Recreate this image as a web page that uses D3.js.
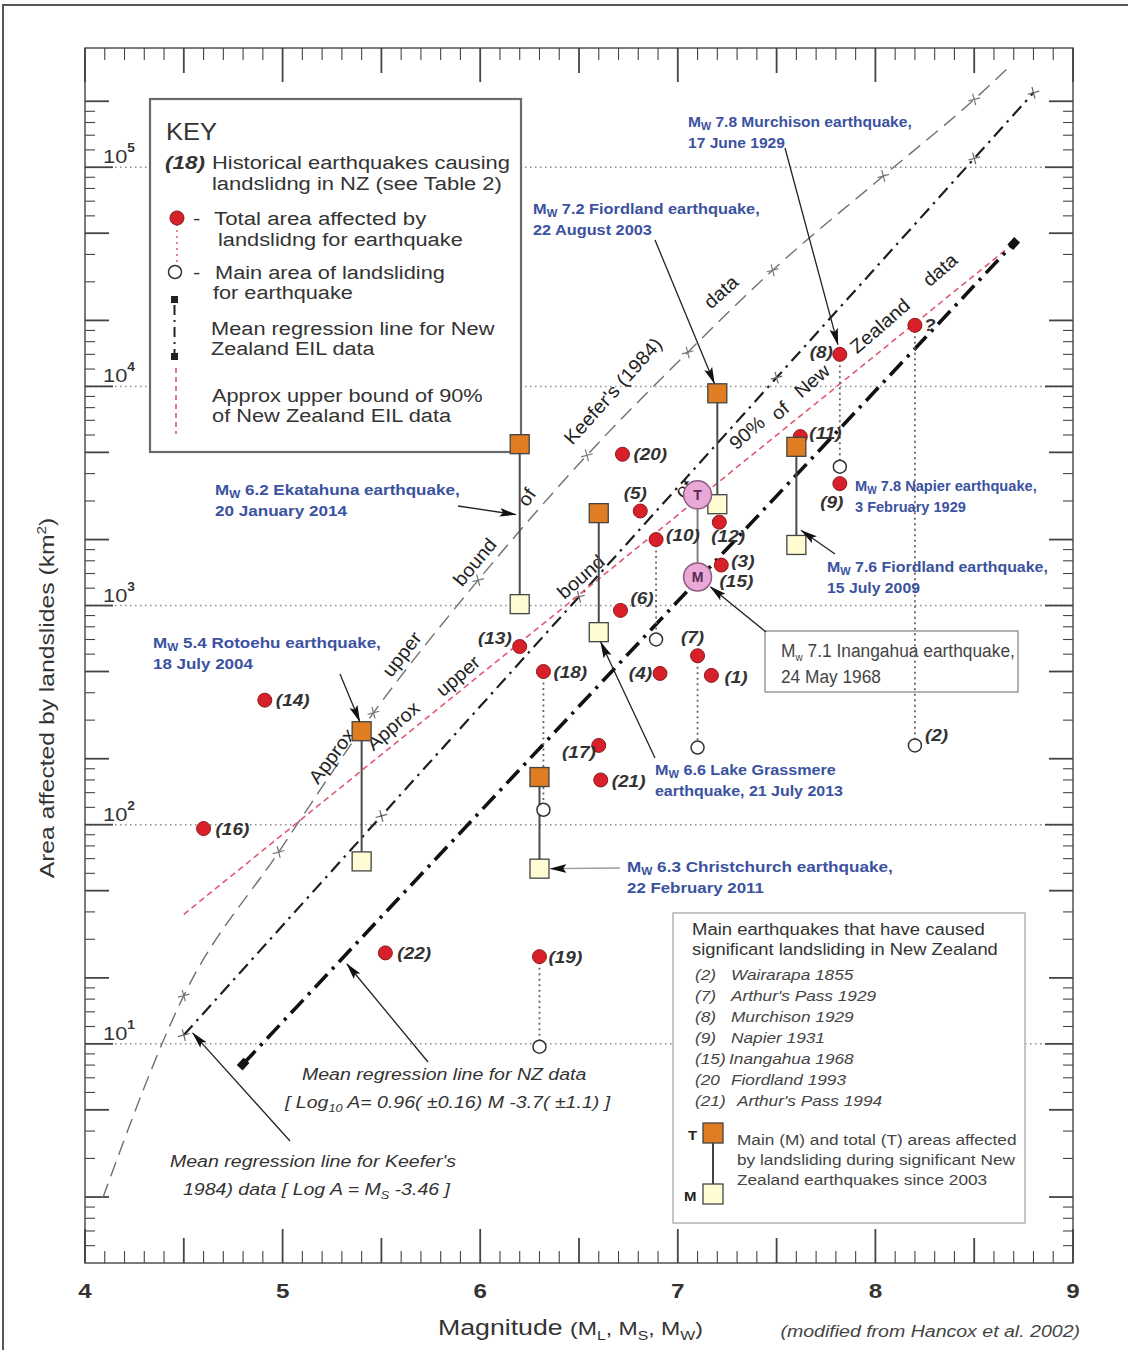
<!DOCTYPE html>
<html>
<head>
<meta charset="utf-8">
<script src="https://cdn.jsdelivr.net/npm/d3@7"></script>
<style>
  body { margin: 0; background: #fff; }
  svg { display: block; }
  text { font-family: "Liberation Sans", Arial, sans-serif; }
</style>
</head>
<body>
<svg id="chart" width="1128" height="1350"></svg>
<script>
// ---------------- data ----------------
const magnitudeTicks = [4, 5, 6, 7, 8, 9];
const decadeLabels = [1, 2, 3, 4, 5];           // powers of ten labelled on the area axis
const minorMultipliers = [1, 1.2, 1.4, 1.6, 1.8, 2, 3, 4, 5, 6, 7, 8, 9];

// historical NZ earthquakes: id, magnitude, total area affected (km2)
const historicalIds   = [1, 2, 3, 4, 5, 6, 7, 8, 9, 10, 11, 12, 13, 14, 16, 17, 18, 19, 20, 21, 22];
const historicalMag   = [7.17, 8.2, 7.22, 6.91, 6.81, 6.71, 7.1, 7.82, 7.82, 6.89, 7.62, 7.21, 6.2, 4.91, 4.6, 6.6, 6.32, 6.3, 6.72, 6.61, 5.52];
const historicalTotal = [480, 19000, 1530, 490, 2700, 950, 590, 14000, 3600, 2000, 5900, 2400, 650, 370, 96, 230, 500, 25, 4900, 160, 26];

// main area of landsliding (open circles), linked to the event id
const mainIds  = [2, 7, 8, 10, 18, 19];
const mainArea = [230, 225, 4300, 700, 117, 9.7];

// Inangahua 1968 (event 15): total (T) and main (M) areas
const inangahua = { m: 7.1, total: 3200, main: 1350 };

// significant earthquakes since 2003: total (T) and main (M) areas
const recentNames = ["Rotoehu", "Ekatahuna", "Christchurch", "Lake Grassmere", "Fiordland 2003", "Fiordland 2009"];
const recentMag   = [5.4, 6.2, 6.3, 6.6, 7.2, 7.6];
const recentTotal = [267, 5450, 165, 2640, 9300, 5300];
const recentMain  = [68, 1015, 63, 756, 2900, 1890];

// approximate upper bound of Keefer's (1984) data
const keeferUpperMag  = [4.09, 4.5, 4.98, 5.46, 5.99, 6.54, 7.05, 7.48, 8.04, 8.5, 8.67];
const keeferUpperArea = [1.98, 16.6, 75, 324, 1306, 4850, 14300, 33900, 91200, 204000, 283000];
const keeferUpperCrosses = [4.5, 4.98, 5.46, 5.99, 6.54, 7.05, 7.48, 8.04, 8.5];

// regression lines: log10 A = slope * M + intercept
const keeferMean = { slope: 1.0, intercept: -3.46, from: 4.5, to: 8.8 };
const keeferMeanCrosses = [4.5, 5.5, 6.5, 7.5, 8.5, 8.8];
const nzMean = { slope: 0.96, intercept: -3.7, from: 4.8, to: 8.7 };

// approximate upper bound of 90% of NZ EIL data
const nz90Mag  = [4.5, 8.67];
const nz90Area = [39, 42700];

// ---------------- layout ----------------
const svg = d3.select("#chart");
const plot = { left: 85, right: 1073, top: 48, bottom: 1263 };
const x = d3.scaleLinear().domain([4, 9]).range([plot.left, plot.right]);
const y = d3.scaleLog().domain([1, 3.5e5]).range([plot.bottom, plot.top]);

const BLUE = "#3b52a0";
const INK = "#2e2e2e";
const STRETCH = 1.15;   // lettering is set slightly wide

// text helper: places a (optionally rotated) label and widens it
function txt(parent, x0, y0, opts, content) {
  const g = parent.append("g")
    .attr("transform", `translate(${x0},${y0})` + (opts.rotate ? ` rotate(${opts.rotate})` : ""));
  const t = g.append("text").attr("font-size", opts.size || 16)
    .attr("fill", opts.fill || INK).attr("text-anchor", opts.anchor || "start");
  if (opts.weight) t.attr("font-weight", opts.weight);
  if (opts.italic) t.attr("font-style", "italic");
  if (opts.family) t.attr("font-family", opts.family);
  if (opts.baseline) t.attr("dominant-baseline", opts.baseline);
  if (typeof content === "function") content(t); else t.text(content);
  let sx = opts.stretch == null ? STRETCH : opts.stretch;
  if (opts.width) {
    const w = t.node().getBBox().width;
    if (w > 0) sx = opts.width / w;
  }
  t.attr("transform", `scale(${sx},1)`);
  return t;
}

// arrow marker
const defs = svg.append("defs");
defs.append("marker").attr("id", "arrow")
  .attr("viewBox", "0 0 16 8").attr("refX", 15).attr("refY", 4)
  .attr("markerUnits", "userSpaceOnUse")
  .attr("markerWidth", 17).attr("markerHeight", 9).attr("orient", "auto")
  .append("path").attr("d", "M0,0 L16,4 L0,8 L3,4 z").attr("fill", "#111");

// outer border
svg.append("path").attr("d", "M3,1350 L3,5 L1128,5")
  .attr("fill", "none").attr("stroke", "#555").attr("stroke-width", 2);

// ---------------- grid ----------------
const grid = svg.append("g");
decadeLabels.forEach(p => {
  grid.append("line")
    .attr("x1", plot.left).attr("x2", plot.right)
    .attr("y1", y(Math.pow(10, p))).attr("y2", y(Math.pow(10, p)))
    .attr("stroke", "#8d8d8d").attr("stroke-width", 1.5)
    .attr("stroke-dasharray", "1.5,3.5");
});

// ---------------- frame and ticks ----------------
const frame = svg.append("g").attr("stroke", "#444").attr("fill", "none");
frame.append("rect").attr("x", plot.left).attr("y", plot.top)
  .attr("width", plot.right - plot.left).attr("height", plot.bottom - plot.top)
  .attr("stroke-width", 1.4);

d3.range(40, 91).forEach(i => {
  const m = i / 10;
  const len = i % 10 === 0 ? 34 : (i % 5 === 0 ? 25 : 12);
  const w = i % 5 === 0 ? 1.8 : 1.1;
  frame.append("line").attr("x1", x(m)).attr("x2", x(m))
    .attr("y1", plot.top).attr("y2", plot.top + len).attr("stroke-width", w);
  frame.append("line").attr("x1", x(m)).attr("x2", x(m))
    .attr("y1", plot.bottom).attr("y2", plot.bottom - len).attr("stroke-width", w);
});

[0, 1, 2, 3, 4, 5].forEach(p => {
  minorMultipliers.forEach(k => {
    const v = k * Math.pow(10, p);
    if (v <= 1 || v > 2.1e5) return;
    const len = k === 1 ? 28 : (k === 2 || k === 5 ? 24 : 10);
    const w = (k === 1 || k === 2 || k === 5) ? 1.8 : 1.1;
    frame.append("line").attr("x1", plot.left).attr("x2", plot.left + len)
      .attr("y1", y(v)).attr("y2", y(v)).attr("stroke-width", w);
    frame.append("line").attr("x1", plot.right).attr("x2", plot.right - len)
      .attr("y1", y(v)).attr("y2", y(v)).attr("stroke-width", w);
  });
});

// tick labels
magnitudeTicks.forEach(m => {
  txt(svg, x(m), 1298, { size: 21, weight: "bold", anchor: "middle", fill: "#333" }, String(m));
});
decadeLabels.forEach(p => {
  txt(svg, 103, y(Math.pow(10, p)) - 4, { size: 19, fill: "#333" }, t => {
    t.append("tspan").text("10");
    t.append("tspan").attr("dy", -11).attr("font-size", 12).attr("font-weight", "bold").text(p);
  });
});

// axis titles
txt(svg, 438, 1335, { size: 22, fill: "#333", width: 265 }, t => {
  t.append("tspan").text("Magnitude ");
  t.append("tspan").attr("font-size", 19).text("(M");
  t.append("tspan").attr("font-size", 13).attr("dy", 5).text("L");
  t.append("tspan").attr("font-size", 19).attr("dy", -5).text(", M");
  t.append("tspan").attr("font-size", 13).attr("dy", 5).text("S");
  t.append("tspan").attr("font-size", 19).attr("dy", -5).text(", M");
  t.append("tspan").attr("font-size", 13).attr("dy", 5).text("W");
  t.append("tspan").attr("font-size", 19).attr("dy", -5).text(")");
});
txt(svg, 1080, 1337, { size: 17, italic: true, anchor: "end", fill: "#444" },
  "(modified from Hancox et al. 2002)");
txt(svg, 54, 698, { size: 21, rotate: -90, anchor: "middle", fill: "#333", width: 361 }, t => {
  t.append("tspan").text("Area affected by landslides  (km");
  t.append("tspan").attr("font-size", 13).attr("dy", -8).text("2");
  t.append("tspan").attr("dy", 8).text(")");
});

// ---------------- lines ----------------
const lines = svg.append("g").attr("fill", "none");
const logLine = d3.line().x(d => x(d[0])).y(d => y(d[1])).curve(d3.curveMonotoneX);

// Keefer (1984) upper bound
lines.append("path")
  .attr("d", logLine(keeferUpperMag.map((m, i) => [m, keeferUpperArea[i]])))
  .attr("stroke", "#707070").attr("stroke-width", 1.4).attr("stroke-dasharray", "15,8");

function cross(g, cx, cy, color) {
  g.append("path").attr("d", `M${cx - 6},${cy} L${cx + 6},${cy} M${cx},${cy - 6} L${cx},${cy + 6}`)
    .attr("stroke", color).attr("stroke-width", 1.2)
    .attr("transform", `rotate(-15,${cx},${cy})`);
}
const keeferInterp = m => {
  const i = d3.bisectLeft(keeferUpperMag, m);
  if (keeferUpperMag[i] === m) return keeferUpperArea[i];
  const m0 = keeferUpperMag[i - 1], m1 = keeferUpperMag[i];
  const a0 = Math.log10(keeferUpperArea[i - 1]), a1 = Math.log10(keeferUpperArea[i]);
  return Math.pow(10, a0 + (a1 - a0) * (m - m0) / (m1 - m0));
};
keeferUpperCrosses.forEach(m => cross(lines, x(m), y(keeferInterp(m)), "#777"));

// Keefer mean regression
const regr = (r, m) => Math.pow(10, r.slope * m + r.intercept);
lines.append("line")
  .attr("x1", x(keeferMean.from)).attr("y1", y(regr(keeferMean, keeferMean.from)))
  .attr("x2", x(keeferMean.to)).attr("y2", y(regr(keeferMean, keeferMean.to)))
  .attr("stroke", "#1e1e1e").attr("stroke-width", 2.2).attr("stroke-dasharray", "13,6,2.5,6");
keeferMeanCrosses.forEach(m => cross(lines, x(m), y(regr(keeferMean, m)), "#666"));

// NZ 90% upper bound
lines.append("line")
  .attr("x1", x(nz90Mag[0])).attr("y1", y(nz90Area[0]))
  .attr("x2", x(nz90Mag[1])).attr("y2", y(nz90Area[1]))
  .attr("stroke", "#e05a72").attr("stroke-width", 1.6).attr("stroke-dasharray", "6,4");

// NZ mean regression
const nx1 = x(nzMean.from), ny1 = y(regr(nzMean, nzMean.from));
const nx2 = x(nzMean.to), ny2 = y(regr(nzMean, nzMean.to));
lines.append("line").attr("x1", nx1).attr("y1", ny1).attr("x2", nx2).attr("y2", ny2)
  .attr("stroke", "#111").attr("stroke-width", 3.6).attr("stroke-dasharray", "18,7,3,7");
const nzAngle = Math.atan2(ny2 - ny1, nx2 - nx1) * 180 / Math.PI;
[[nx1, ny1], [nx2, ny2]].forEach(([cx, cy]) => {
  lines.append("rect").attr("x", cx - 5).attr("y", cy - 4).attr("width", 10).attr("height", 8)
    .attr("fill", "#111").attr("transform", `rotate(${nzAngle},${cx},${cy})`);
});

// labels along lines
function alongText(cx, cy, angle, str, size) {
  txt(svg, cx, cy, { size: size || 19, rotate: angle, anchor: "middle", baseline: "middle",
    fill: "#222", stretch: 1.05 }, str);
}
alongText(333, 757, -53, "Approx");
alongText(403, 655, -52, "upper");
alongText(476, 563, -50, "bound");
alongText(528, 498, -55, "of");
alongText(614, 392, -48, "Keefer's (1984)");
alongText(722, 293, -42, "data");
alongText(394, 727, -41, "Approx");
alongText(459, 677, -41, "upper");
alongText(582, 578, -41, "bound");
alongText(685, 490, -41, "of");
alongText(748, 434, -41, "90%");
alongText(781, 412, -41, "of");
alongText(813, 382, -41, "New");
alongText(881, 327, -41, "Zealand");
alongText(941, 271, -41, "data");

// ---------------- KEY ----------------
const key = svg.append("g");
key.append("rect").attr("x", 150).attr("y", 99).attr("width", 371).attr("height", 353)
  .attr("fill", "#fff").attr("stroke", "#6a6a6a").attr("stroke-width", 2.2);
txt(key, 166, 140, { size: 23, fill: "#333", width: 51 }, "KEY");
const kt = (xx, yy, s, w, opts) => txt(key, xx, yy,
  Object.assign({ size: 19, fill: "#333", width: w }, opts || {}), s);
kt(165, 169, "(18)", 40, { weight: "bold", italic: true });
kt(212, 169, "Historical earthquakes causing", 298);
kt(212, 190, "landslidng in NZ (see Table 2)", 290);
key.append("line").attr("x1", 177).attr("x2", 177).attr("y1", 224).attr("y2", 266)
  .attr("stroke", "#d06070").attr("stroke-width", 1.5).attr("stroke-dasharray", "2,4");
key.append("circle").attr("cx", 177).attr("cy", 218).attr("r", 7)
  .attr("fill", "#d8202a").attr("stroke", "#7a1a1a");
kt(193, 225, "-");
kt(214, 225, "Total area affected  by", 213);
kt(218, 246, "landslidng for earthquake", 245);
key.append("circle").attr("cx", 175).attr("cy", 272).attr("r", 6.5)
  .attr("fill", "#fff").attr("stroke", "#333").attr("stroke-width", 1.5);
kt(193, 279, "-");
kt(215, 279, "Main area of landsliding", 230);
kt(213, 299, "for earthquake", 140);
key.append("rect").attr("x", 171).attr("y", 296).attr("width", 7).attr("height", 7).attr("fill", "#222");
key.append("line").attr("x1", 174.5).attr("x2", 174.5).attr("y1", 305).attr("y2", 355)
  .attr("stroke", "#222").attr("stroke-width", 2).attr("stroke-dasharray", "10,5,2,5");
key.append("rect").attr("x", 171).attr("y", 353).attr("width", 7).attr("height", 7).attr("fill", "#222");
kt(211, 335, "Mean regression line for New", 284);
kt(211, 355, "Zealand EIL data", 164);
key.append("line").attr("x1", 176).attr("x2", 176).attr("y1", 368).attr("y2", 434)
  .attr("stroke", "#d85a70").attr("stroke-width", 1.6).attr("stroke-dasharray", "5,4");
kt(212, 402, "Approx upper bound of 90%", 271);
kt(212, 422, "of New Zealand EIL data", 240);

// ---------------- legend of main earthquakes ----------------
const lg = svg.append("g");
lg.append("rect").attr("x", 673).attr("y", 913).attr("width", 352).attr("height", 310)
  .attr("fill", "#fff").attr("stroke", "#b8b8b8").attr("stroke-width", 1.6);
txt(lg, 692, 935, { size: 16, fill: "#333", width: 293 }, "Main earthquakes that have caused");
txt(lg, 692, 955, { size: 16, fill: "#333", width: 306 }, "significant landsliding in New Zealand");
const legendIds   = ["(2)", "(7)", "(8)", "(9)", "(15)", "(20", "(21)"];
const legendNames = ["Wairarapa 1855", "Arthur's Pass 1929", "Murchison 1929", "Napier 1931",
                     "Inangahua 1968", "Fiordland 1993", "Arthur's Pass 1994"];
legendIds.forEach((id, i) => {
  const yy = 980 + i * 21;
  txt(lg, 695, yy, { size: 15, italic: true, fill: "#444" }, id);
  txt(lg, i === 4 ? 729 : (i === 6 ? 737 : 731), yy, { size: 15, italic: true, fill: "#444" }, legendNames[i]);
});
lg.append("line").attr("x1", 713).attr("x2", 713).attr("y1", 1133).attr("y2", 1193)
  .attr("stroke", "#444").attr("stroke-width", 2);
lg.append("rect").attr("x", 703).attr("y", 1123).attr("width", 20).attr("height", 20)
  .attr("fill", "#e07d22").attr("stroke", "#444").attr("stroke-width", 1.3);
lg.append("rect").attr("x", 703).attr("y", 1184).attr("width", 20).attr("height", 20)
  .attr("fill", "#fffbd2").attr("stroke", "#444").attr("stroke-width", 1.3);
txt(lg, 688, 1140, { size: 13, weight: "bold", fill: "#222" }, "T");
txt(lg, 684, 1201, { size: 13, weight: "bold", fill: "#222" }, "M");
["Main (M) and total (T) areas affected", "by landsliding during significant New", "Zealand earthquakes since 2003"]
  .forEach((s, i) => txt(lg, 737, 1145 + i * 20, { size: 15, fill: "#444" }, s));

// ---------------- Inangahua call-out box ----------------
svg.append("rect").attr("x", 765).attr("y", 631).attr("width", 253).attr("height", 61)
  .attr("fill", "#fff").attr("stroke", "#9a9a9a").attr("stroke-width", 1.5);
txt(svg, 781, 657, { size: 19, fill: "#444", width: 234 }, t => {
  t.append("tspan").text("M");
  t.append("tspan").attr("font-size", 11).attr("dy", 4).text("w");
  t.append("tspan").attr("dy", -4).text(" 7.1 Inangahua earthquake,");
});
txt(svg, 781, 683, { size: 19, fill: "#444", width: 100 }, "24 May 1968");

// ---------------- connectors ----------------
const marks = svg.append("g");
const histById = {};
historicalIds.forEach((id, i) => histById[id] = { m: historicalMag[i], total: historicalTotal[i] });
mainIds.forEach((id, i) => {
  const h = histById[id];
  marks.append("line").attr("x1", x(h.m)).attr("x2", x(h.m))
    .attr("y1", y(h.total)).attr("y2", y(mainArea[i]))
    .attr("stroke", "#666").attr("stroke-width", 1.8).attr("stroke-dasharray", "2,3.5");
});
recentMag.forEach((m, i) => {
  marks.append("line").attr("x1", x(m)).attr("x2", x(m))
    .attr("y1", y(recentTotal[i])).attr("y2", y(recentMain[i]))
    .attr("stroke", "#4a4a4a").attr("stroke-width", 2);
});
marks.append("line").attr("x1", x(inangahua.m)).attr("x2", x(inangahua.m))
  .attr("y1", y(inangahua.total)).attr("y2", y(inangahua.main))
  .attr("stroke", "#777").attr("stroke-width", 1.8);

// open circles
mainIds.forEach((id, i) => {
  marks.append("circle").attr("cx", x(histById[id].m)).attr("cy", y(mainArea[i])).attr("r", 6.5)
    .attr("fill", "#fff").attr("stroke", "#333").attr("stroke-width", 1.5);
});

// main-area squares (under the dots)
const sq = 19;
recentMag.forEach((m, i) => {
  marks.append("rect").attr("x", x(m) - sq / 2).attr("y", y(recentMain[i]) - sq / 2)
    .attr("width", sq).attr("height", sq)
    .attr("fill", "#fffbd2").attr("stroke", "#444").attr("stroke-width", 1.3);
});

// red dots
historicalIds.forEach((id, i) => {
  marks.append("circle").attr("cx", x(historicalMag[i])).attr("cy", y(historicalTotal[i])).attr("r", 7)
    .attr("fill", "#d8202a").attr("stroke", "#8a1a1a").attr("stroke-width", 1);
});

// total-area squares (over the dots)
recentMag.forEach((m, i) => {
  marks.append("rect").attr("x", x(m) - sq / 2).attr("y", y(recentTotal[i]) - sq / 2)
    .attr("width", sq).attr("height", sq)
    .attr("fill", "#e07d22").attr("stroke", "#444").attr("stroke-width", 1.3);
});

// Inangahua pink circles
[["T", inangahua.total], ["M", inangahua.main]].forEach(([lab, v]) => {
  marks.append("circle").attr("cx", x(inangahua.m)).attr("cy", y(v)).attr("r", 14)
    .attr("fill", "#eaa8d6").attr("stroke", "#8c5a82").attr("stroke-width", 1.5);
  marks.append("text").attr("x", x(inangahua.m)).attr("y", y(v) + 5).attr("text-anchor", "middle")
    .attr("font-size", 14).attr("font-weight", "bold").attr("fill", "#5a2a50").text(lab);
});

// event number labels: id, dx, dy, anchor
const numLabels = [
  [1, 13, 8, "start"], [3, 10, 2, "start"], [4, -8, 6, "end"], [5, -5, -12, "middle"],
  [6, 10, -6, "start"], [7, -5, -13, "middle"], [8, -7, 4, "end"], [9, -8, 24, "middle"],
  [10, 10, 1, "start"], [11, 9, 2, "start"], [12, -8, 20, "start"], [13, -8, -3, "end"],
  [14, 11, 6, "start"], [16, 12, 6, "start"], [17, -3, 13, "end"], [18, 10, 6, "start"],
  [19, 9, 6, "start"], [20, 11, 6, "start"], [21, 11, 7, "start"], [22, 12, 6, "start"]
];
const numStyle = { size: 16.5, weight: "bold", italic: true, fill: "#333" };
numLabels.forEach(([id, dx, dy, anchor]) => {
  const h = histById[id];
  txt(svg, x(h.m) + dx, y(h.total) + dy, Object.assign({ anchor }, numStyle), `(${id})`);
});
// (15) next to the Inangahua M circle, (2) next to its main-area circle
txt(svg, x(inangahua.m) + 22, y(inangahua.main) + 10, numStyle, "(15)");
txt(svg, x(histById[2].m) + 10, y(mainArea[0]) - 4, numStyle, "(2)");
txt(svg, x(histById[2].m) + 9, y(histById[2].total) + 6, numStyle, "?");

// ---------------- annotations ----------------
function blueNote(xx, yy, mag, rest, line2, w1, w2) {
  txt(svg, xx, yy, { size: 14.5, weight: "bold", fill: BLUE, width: w1 }, t => {
    t.append("tspan").text("M");
    t.append("tspan").attr("font-size", 10).attr("dy", 3).text("W");
    t.append("tspan").attr("dy", -3).text(` ${mag} ${rest}`);
  });
  txt(svg, xx, yy + 21, { size: 14.5, weight: "bold", fill: BLUE, width: w2 }, line2);
}
blueNote(688, 127, "7.8", "Murchison earthquake,", "17 June 1929", 224, 97);
blueNote(533, 214, "7.2", "Fiordland earthquake,", "22 August 2003", 227, 119);
blueNote(215, 495, "6.2", "Ekatahuna earthquake,", "20 January 2014", 245, 132);
blueNote(153, 648, "5.4", "Rotoehu earthquake,", "18 July 2004", 228, 100);
blueNote(855, 491, "7.8", "Napier earthquake,", "3 February 1929", 182, 111);
blueNote(827, 572, "7.6", "Fiordland earthquake,", "15 July 2009", 221, 93);
blueNote(655, 775, "6.6", "Lake Grassmere", "earthquake, 21 July 2013", 181, 188);
blueNote(627, 872, "6.3", "Christchurch earthquake,", "22 February 2011", 266, 137);

function arrow(x1, y1, x2, y2, color) {
  svg.append("line").attr("x1", x1).attr("y1", y1).attr("x2", x2).attr("y2", y2)
    .attr("stroke", color || "#222").attr("stroke-width", 1.3).attr("marker-end", "url(#arrow)");
}
arrow(785, 148, x(histById[8].m) - 2, y(histById[8].total) - 10);
arrow(655, 240, x(7.2) - 3, y(9300) - 10);
arrow(458, 506, x(6.2) - 4, y(2600));
arrow(340, 674, x(5.4) - 2, y(267) - 10);
arrow(835, 554, x(7.6) + 5, y(2200));
arrow(655, 758, x(6.6) + 2, y(756) + 10);
arrow(620, 868, x(6.3) + 11, y(63), "#999");
arrow(766, 632, x(inangahua.m) + 13, y(inangahua.main) + 10);
arrow(290, 1141, x(keeferMean.from) + 9, y(regr(keeferMean, keeferMean.from)) - 2);
arrow(428, 1062, 347, 964);

// regression line captions
const capStyle = { size: 17, italic: true, fill: "#333" };
txt(svg, 302, 1080, capStyle, "Mean regression line for NZ data");
txt(svg, 285, 1108, capStyle, t => {
  t.append("tspan").text("[ Log");
  t.append("tspan").attr("font-size", 11).attr("dy", 4).text("10");
  t.append("tspan").attr("dy", -4).text(" A= 0.96( \u00b10.16) M -3.7( \u00b11.1) ]");
});
txt(svg, 170, 1167, capStyle, "Mean regression line for Keefer's");
txt(svg, 183, 1195, capStyle, t => {
  t.append("tspan").text("1984) data [ Log A = M");
  t.append("tspan").attr("font-size", 11).attr("dy", 4).text("S");
  t.append("tspan").attr("dy", -4).text(" -3.46 ]");
});
</script>
</body>
</html>
